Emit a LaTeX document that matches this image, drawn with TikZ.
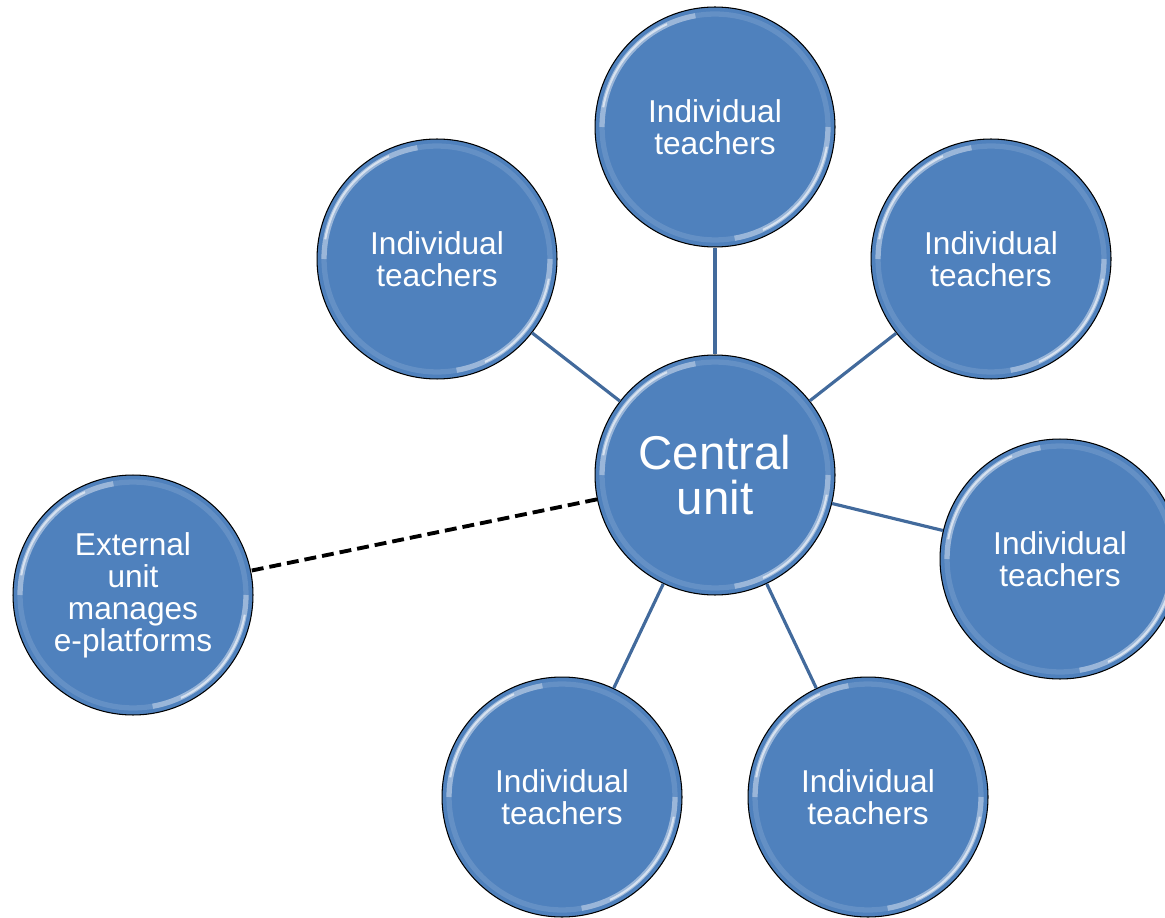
\documentclass[tikz,border=0pt]{standalone}
\usepackage{fontspec}
\setmainfont{Liberation Sans}
\usepackage{tikz}
\usepackage{xcolor}
\definecolor{ballblue}{RGB}{79,129,189}
\definecolor{spokeblue}{RGB}{66,106,156}

\begin{document}
\begin{tikzpicture}[x=0.02cm, y=-0.02cm,
		ball/.style = {circle, fill=ballblue, draw=black, line width=0.6pt, minimum size=4.8cm, inner sep=0pt,
			text=white, align=center, font=\fontsize{18}{18.2}\selectfont,
			path picture={
				\draw[white, opacity=.12, line width=3pt] (path picture bounding box.center) circle (2.26cm);
				\draw[white, opacity=.35, line width=3pt] (path picture bounding box.center) ++(100:2.26cm) arc (100:180:2.26cm);
				\draw[white, opacity=.6, line width=1.2pt] (path picture bounding box.center) ++(115:2.27cm) arc (115:170:2.27cm);
				\draw[white, opacity=.35, line width=3pt] (path picture bounding box.center) ++(280:2.26cm) arc (280:360:2.26cm);
				\draw[white, opacity=.6, line width=1.2pt] (path picture bounding box.center) ++(295:2.27cm) arc (295:350:2.27cm);
			}},
		spoke/.style = {draw=spokeblue, line width=1.8pt},
		link/.style = {draw=black, line width=2.2pt, dash pattern=on 6.8pt off 3.4pt}]
		\useasboundingbox (0,0) rectangle (1165,918);
		\node[ball, font=\fontsize{27}{26}\selectfont] (central) at (715,475) {Central\\unit};
		\node[ball] (top) at (715,127) {Individual\\teachers};
		\node[ball] (upleft) at (437,259) {Individual\\teachers};
		\node[ball] (upright) at (991,259) {Individual\\teachers};
		\node[ball] (right) at (1060,559) {Individual\\teachers};
		\node[ball] (lowright) at (868,797) {Individual\\teachers};
		\node[ball] (lowleft) at (562,797) {Individual\\teachers};
		\node[ball] (external) at (133,595) {External\\unit\\manages\\e-platforms};
		\foreach \t in {top, upleft, upright, right, lowright, lowleft}
			\draw[spoke] (central) -- (\t);
		\draw[link] (central) -- (external);
	\end{tikzpicture}
\end{document}
